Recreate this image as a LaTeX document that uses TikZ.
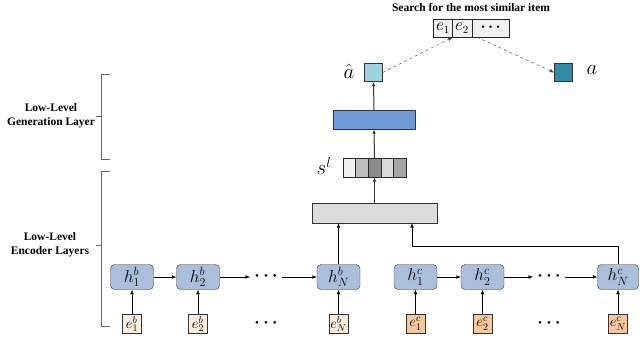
\documentclass[tikz,border=0pt]{standalone}
\usepackage{fontspec}
\setmainfont{Liberation Serif}
\usetikzlibrary{arrows.meta}

\definecolor{hblue}{HTML}{AABFDC}
\definecolor{ebpeach}{HTML}{FCEDDF}
\definecolor{ecpeach}{HTML}{F8C79E}
\definecolor{genblue}{HTML}{6F9BD8}
\definecolor{ahatcol}{HTML}{9DD2DE}
\definecolor{acol}{HTML}{2E8DA4}
\definecolor{encgray}{HTML}{DCDCDC}
\definecolor{cellgray}{HTML}{F0F0F0}
\definecolor{s1}{HTML}{F0F0F0}
\definecolor{s2}{HTML}{BDBDBD}
\definecolor{s3}{HTML}{8C8C8C}
\definecolor{s4}{HTML}{D9D9D9}
\definecolor{s5}{HTML}{A6A6A6}

\tikzset{
	hbox/.style={draw=black!80,fill=hblue,rounded corners=4pt,minimum width=43pt,minimum height=25pt,inner sep=0pt,font=\fontsize{18}{18}\selectfont},
	ebox/.style={draw=black!80,minimum width=19pt,minimum height=19pt,inner sep=0pt,font=\fontsize{14}{14}\selectfont},
	cell/.style={draw=black!85,fill=cellgray,minimum height=18pt,inner sep=0pt,font=\fontsize{16}{16}\selectfont},
	scell/.style={draw=black!85,minimum width=12.6pt,minimum height=19pt,inner sep=0pt},
	sq/.style={draw=black!80,minimum size=18pt,inner sep=0pt},
	dotsnode/.style={inner sep=5pt,font=\fontsize{11}{11}\selectfont},
	lbl/.style={align=center,font=\bfseries\fontsize{11.5}{14}\selectfont},
	brk/.style={draw=black!60,line width=0.9pt},
	big/.style={font=\fontsize{22}{22}\selectfont}
}

\begin{document}
\begin{tikzpicture}[x=1pt,y=-1pt,>={Latex[length=4.5pt,width=3.5pt]}]
		\useasboundingbox (0,0) rectangle (640,341);
		% search
		\node[font=\bfseries\fontsize{11.5}{12}\selectfont] (title) at (471,8) {Search for the most similar item};
		\node[cell,minimum width=19pt] (e1) at (443,28) {$e_1$};
		\node[cell,minimum width=20pt] (e2) at (462,28) {$e_2$};
		\node[cell,minimum width=37pt,font=\fontsize{10}{10}\selectfont] (edots) at (490.5,28) {\textbullet\hspace{4pt}\textbullet\hspace{4pt}\textbullet};
		\node[sq,fill=ahatcol] (ahat) at (373.5,72.5) {};
		\node[big] (ahatlab) at (349,71) {$\hat{a}$};
		\node[sq,fill=acol] (a) at (563.5,72.5) {};
		\node[big] (alab) at (592,70) {$a$};
		\draw[->,dashed,black!75] (ahat.east) -- (e1.south east);
		\draw[->,dashed,black!75] ([xshift=5pt]edots.south west) -- (a.west);
		% generation
		\node[draw=black!80,fill=genblue,minimum width=82pt,minimum height=19pt] (gen) at (374,119.5) {};
		\foreach \i in {1,...,5}
			\node[scell,fill=s\i] (s\i) at ({336.7+12.6*\i},167.5) {};
		\node[big] (slab) at (324,166) {$s^l$};
		\node[draw=black!80,fill=encgray,minimum width=125pt,minimum height=20pt] (enc) at (374.5,213) {};
		\path[->,line width=1pt,black!80]
		(gen.north) edge (ahat.south)
		(s3.north) edge (gen.south)
		(enc.north) edge (s3.south);
		% encoder rows
		\node[hbox] (hb1) at (132,277) {$h_1^b$};
		\node[hbox] (hb2) at (198,277) {$h_2^b$};
		\node[dotsnode] (hbdots) at (266,277) {\textbullet\hspace{5pt}\textbullet\hspace{5pt}\textbullet};
		\node[hbox] (hbN) at (338.5,277) {$h_N^b$};
		\node[hbox] (hc1) at (415.5,277) {$h_1^c$};
		\node[hbox] (hc2) at (482.5,277) {$h_2^c$};
		\node[dotsnode] (hcdots) at (549,277) {\textbullet\hspace{5pt}\textbullet\hspace{5pt}\textbullet};
		\node[hbox,minimum width=41pt] (hcN) at (618,277) {$h_N^c$};
		\node[ebox,fill=ebpeach] (eb1) at (132,324) {$e_1^b$};
		\node[ebox,fill=ebpeach] (eb2) at (198,324) {$e_2^b$};
		\node[dotsnode] (ebdots) at (266,324) {\textbullet\hspace{5pt}\textbullet\hspace{5pt}\textbullet};
		\node[ebox,fill=ebpeach] (ebN) at (338.5,324) {$e_N^b$};
		\node[ebox,fill=ecpeach] (ec1) at (415.5,324) {$e_1^c$};
		\node[ebox,fill=ecpeach] (ec2) at (482.5,324) {$e_2^c$};
		\node[dotsnode] (ecdots) at (549,324) {\textbullet\hspace{5pt}\textbullet\hspace{5pt}\textbullet};
		\node[ebox,fill=ecpeach] (ecN) at (618,324) {$e_N^c$};
		\path[->]
		(hb1) edge (hb2)
		(hb2) edge (hbdots)
		(hbdots) edge (hbN)
		(hc1) edge (hc2)
		(hc2) edge (hcdots)
		(hcdots) edge (hcN)
		(eb1) edge (hb1)
		(eb2) edge (hb2)
		(ebN) edge (hbN)
		(ec1) edge (hc1)
		(ec2) edge (hc2)
		(ecN) edge (hcN)
		(hbN.north) edge (hbN.north |- enc.south);
		\coordinate (turn) at (412,246);
		\draw[->] (hcN.north) |- (turn) -- (turn |- enc.south);
		% brackets
		\draw[brk] (110,74) -- (101,74) -- (101,159) -- (110,159);
		\draw[brk] (101,116) -- (96,116);
		\node[lbl] (genlab) at (51,116) {Low-Level\\Generation Layer};
		\draw[brk] (110,171) -- (101,171) -- (101,326) -- (110,326);
		\draw[brk] (101,245) -- (96,245);
		\node[lbl] (enclab) at (50,245) {Low-Level\\Encoder Layers};
		\end{tikzpicture}
\end{document}
